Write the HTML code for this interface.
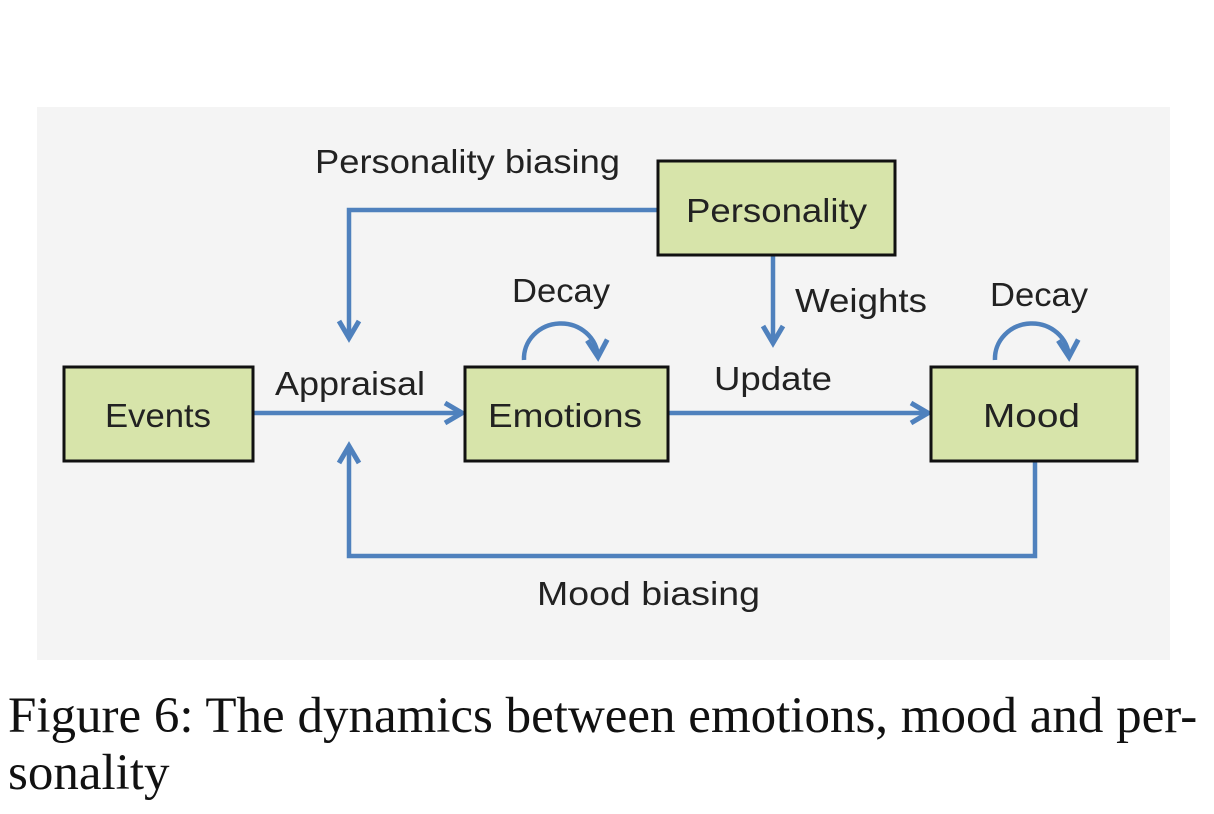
<!DOCTYPE html>
<html><head><style>
body{margin:0;width:1214px;height:814px;background:#fff;overflow:hidden;position:relative}
.cap{position:absolute;left:8px;top:688px;font-family:"Liberation Serif",serif;font-size:51px;line-height:57px;color:#111;white-space:nowrap}
</style></head><body>
<svg width="1214" height="680" style="position:absolute;left:0;top:0">
<defs>
<marker id="b" markerWidth="26" markerHeight="26" refX="21" refY="13" orient="auto" markerUnits="userSpaceOnUse"><path d="M4,3 L21,13 L4,23" fill="none" stroke="#4f81bd" stroke-width="5"/></marker></defs>
<rect x="37" y="107" width="1133" height="553" fill="#f4f4f4"/>
<g fill="none" stroke="#4f81bd" stroke-width="4.5">
<path d="M657,210 H349 V338" marker-end="url(#b)"/>
<path d="M253,413 H462" marker-end="url(#b)"/>
<path d="M1035,461 V556 H349 V446" marker-end="url(#b)"/>
<path d="M773,255 V343" marker-end="url(#b)"/>
<path d="M668,413 H928" marker-end="url(#b)"/>
<path d="M524,360 A37,35 0 1 1 598,357" marker-end="url(#b)"/>
<path d="M995,360 A37,35 0 1 1 1069,357" marker-end="url(#b)"/>
</g>
<g fill="#d7e4aa" stroke="#111" stroke-width="3">
<rect x="658" y="161" width="237" height="94"/>
<rect x="64" y="367" width="189" height="94"/>
<rect x="465" y="367" width="203" height="94"/>
<rect x="931" y="367" width="206" height="94"/>
</g>
<g font-family="Liberation Sans,sans-serif" font-size="33" fill="#222">
<text x="686" y="222" textLength="181" lengthAdjust="spacingAndGlyphs">Personality</text>
<text x="105" y="427" textLength="106" lengthAdjust="spacingAndGlyphs">Events</text>
<text x="488" y="427" textLength="154" lengthAdjust="spacingAndGlyphs">Emotions</text>
<text x="983" y="427" textLength="97" lengthAdjust="spacingAndGlyphs">Mood</text>
<text x="315" y="173" textLength="305" lengthAdjust="spacingAndGlyphs">Personality biasing</text>
<text x="275" y="395" textLength="150" lengthAdjust="spacingAndGlyphs">Appraisal</text>
<text x="512" y="302" textLength="98" lengthAdjust="spacingAndGlyphs">Decay</text>
<text x="990" y="306" textLength="98" lengthAdjust="spacingAndGlyphs">Decay</text>
<text x="795" y="312" textLength="132" lengthAdjust="spacingAndGlyphs">Weights</text>
<text x="714" y="390" textLength="118" lengthAdjust="spacingAndGlyphs">Update</text>
<text x="537" y="605" textLength="223" lengthAdjust="spacingAndGlyphs">Mood biasing</text>
</g>
</svg>
<div class="cap">Figure 6: The dynamics between emotions, mood and per-<br>sonality</div>
</body></html>
